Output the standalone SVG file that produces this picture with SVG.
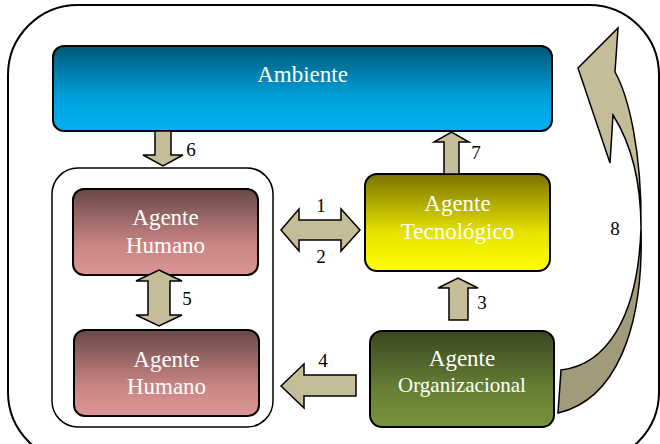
<svg xmlns="http://www.w3.org/2000/svg" width="660" height="444" viewBox="0 0 660 444">
<defs>
<linearGradient id="gAmb" x1="0" y1="0" x2="0" y2="1"><stop offset="0" stop-color="#005776"/><stop offset="0.6" stop-color="#00a0db"/><stop offset="1" stop-color="#00b2f0"/></linearGradient>
<linearGradient id="gHum" x1="0" y1="0" x2="0" y2="1"><stop offset="0" stop-color="#684846"/><stop offset="0.65" stop-color="#c88584"/><stop offset="1" stop-color="#d99694"/></linearGradient>
<linearGradient id="gTec" x1="0" y1="0" x2="0" y2="1"><stop offset="0" stop-color="#7a7200"/><stop offset="0.6" stop-color="#e6e200"/><stop offset="1" stop-color="#ffff00"/></linearGradient>
<linearGradient id="gOrg" x1="0" y1="0" x2="0" y2="1"><stop offset="0" stop-color="#3a4620"/><stop offset="0.6" stop-color="#667f34"/><stop offset="1" stop-color="#77933c"/></linearGradient>
<style>
.box{stroke:#000;stroke-width:2}
.arr{fill:#c4bd97;stroke:#000;stroke-width:1.5;stroke-linejoin:miter}
.lbl{font-family:"Liberation Serif","Times New Roman",serif;font-size:23px;fill:#fff;text-anchor:middle}
.num{font-family:"Liberation Serif","Times New Roman",serif;font-size:19px;fill:#000;text-anchor:middle}
</style>
</defs>
<rect x="8" y="5" width="651" height="457" rx="70" fill="#fff" stroke="#000" stroke-width="2"/>
<g id="ambiente">
<rect class="box" x="53" y="46" width="499" height="85" rx="11" fill="url(#gAmb)"/>
<text class="lbl" x="302.5" y="82">Ambiente</text>
</g>
<g id="grupo-humano">
<rect x="52" y="168" width="221" height="259" rx="26" fill="#fff" stroke="#000" stroke-width="1.5"/>
</g>
<g id="humano1">
<rect class="box" x="73" y="189" width="185" height="86" rx="11" fill="url(#gHum)"/>
<text class="lbl" x="165.5" y="225">Agente</text>
<text class="lbl" x="165.5" y="253">Humano</text>
</g>
<g id="humano2">
<rect class="box" x="74" y="330" width="185" height="86" rx="11" fill="url(#gHum)"/>
<text class="lbl" x="166.5" y="367">Agente</text>
<text class="lbl" x="166.5" y="394">Humano</text>
</g>
<g id="tecnologico">
<rect class="box" x="365" y="174" width="185" height="97" rx="12" fill="url(#gTec)"/>
<text class="lbl" x="457.5" y="211">Agente</text>
<text class="lbl" x="457.5" y="239">Tecnológico</text>
</g>
<g id="organizacional">
<rect class="box" x="370" y="331" width="184" height="96" rx="12" fill="url(#gOrg)"/>
<text class="lbl" x="462" y="366">Agente</text>
<text class="lbl" x="462" y="392" style="font-size:21px">Organizacional</text>
</g>
<g id="conectores">
<polygon class="arr" points="155,131 171,131 171,155 183,155 163,166 143,155 155,155"/>
<polygon class="arr" points="444,174 444,142 434,142 451.5,132 469,142 459,142 459,174"/>
<polygon class="arr" points="159,270 182,281 170,281 170,315 182,315 159,326 136,315 148,315 148,281 136,281"/>
<polygon class="arr" points="281,230 299,209 299,220 341,220 341,209 360,230 341,251 341,240 299,240 299,251"/>
<polygon class="arr" points="281,386 304,364 304,375 356,375 356,396 304,396 304,408"/>
<polygon class="arr" points="449,320 449,288 438,288 458,278 478,288 468,288 468,320"/>
<path class="arr" style="fill:#a29b7b" d="M561,370 C605,365 638,320 641,228 C644,330 615,400 558,413 Z"/>
<path class="arr" d="M641,228 C641,185 632,145 613,115 L610,163 L578,68 L618,28 L615,72 C628,95 642,150 641,228 Z"/>
<text class="num" x="191" y="156">6</text>
<text class="num" x="476" y="159">7</text>
<text class="num" x="321" y="212">1</text>
<text class="num" x="321" y="263">2</text>
<text class="num" x="187" y="305">5</text>
<text class="num" x="323" y="367">4</text>
<text class="num" x="482" y="309">3</text>
<text class="num" x="615" y="235">8</text>
</g>
</svg>
